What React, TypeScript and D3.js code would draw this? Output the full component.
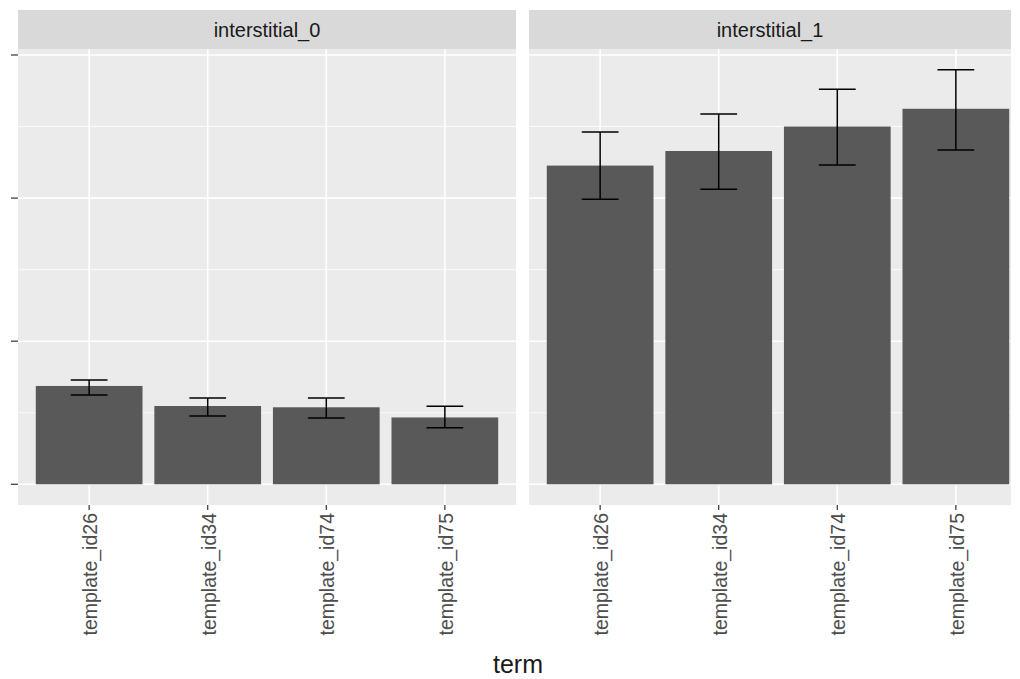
import React from "react";
import * as d3 from "d3";

const facets = ["interstitial_0", "interstitial_1"];
const terms = ["template_id26", "template_id34", "template_id74", "template_id75"];
const means0 = [0.687, 0.547, 0.538, 0.467];
const lower0 = [0.624, 0.477, 0.463, 0.395];
const upper0 = [0.729, 0.603, 0.603, 0.545];
const means1 = [2.227, 2.329, 2.5, 2.624];
const lower1 = [1.991, 2.061, 2.231, 2.336];
const upper1 = [2.462, 2.588, 2.76, 2.897];
const yTicks = [0, 1, 2, 3];

const W = 1020;
const H = 679;
const panelTop = 49;
const panelBottom = 505;
const stripTop = 10;
const panelX = [18, 529];
const panelW = 498;
const panelVisibleW = [498, 482];

const allUpper = upper0.concat(upper1);
const yMax = d3.max(allUpper) as number;
const pad = yMax * 0.05;
const y = d3.scaleLinear().domain([-pad, yMax + pad]).range([panelBottom, panelTop]);

const x = d3.scalePoint<string>().domain(terms).range([0, panelW]).padding(0.6);
const unit = x.step();

const font = "'Liberation Sans', Arial, sans-serif";

function Panel(props: { idx: number }) {
  const { idx } = props;
  const left = panelX[idx];
  const vw = panelVisibleW[idx];
  const means = idx === 0 ? means0 : means1;
  const lower = idx === 0 ? lower0 : lower1;
  const upper = idx === 0 ? upper0 : upper1;
  const minor = d3.range(yTicks.length - 1).map((i) => (yTicks[i] + yTicks[i + 1]) / 2);
  return (
    <g transform={`translate(${left},0)`}>
      <rect x={0} y={stripTop} width={vw} height={panelTop - stripTop} fill="#D9D9D9" />
      <text x={vw / 2} y={(stripTop + panelTop) / 2 + 7} textAnchor="middle" fontSize={20} fill="#1A1A1A" fontFamily={font}>
        {facets[idx]}
      </text>
      <rect x={0} y={panelTop} width={vw} height={panelBottom - panelTop} fill="#EBEBEB" />
      {minor.map((v) => (
        <line key={"mn" + v} x1={0} x2={vw} y1={y(v)} y2={y(v)} stroke="#fff" strokeWidth={0.8} />
      ))}
      {yTicks.map((v) => (
        <line key={"mj" + v} x1={0} x2={vw} y1={y(v)} y2={y(v)} stroke="#fff" strokeWidth={1.6} />
      ))}
      {terms.map((t) => (
        <line key={"gx" + t} x1={x(t)} x2={x(t)} y1={panelTop} y2={panelBottom} stroke="#fff" strokeWidth={1.6} />
      ))}
      {terms.map((t, i) => (
        <rect key={"b" + t} x={(x(t) as number) - unit * 0.45} width={unit * 0.9} y={y(means[i])} height={y(0) - y(means[i])} fill="#595959" />
      ))}
      {terms.map((t, i) => {
        const cx = x(t) as number;
        const hw = unit * 0.155;
        return (
          <g key={"e" + t} stroke="#000" strokeWidth={1.5}>
            <line x1={cx} x2={cx} y1={y(upper[i])} y2={y(lower[i])} />
            <line x1={cx - hw} x2={cx + hw} y1={y(upper[i])} y2={y(upper[i])} />
            <line x1={cx - hw} x2={cx + hw} y1={y(lower[i])} y2={y(lower[i])} />
          </g>
        );
      })}
      {terms.map((t) => (
        <g key={"xt" + t}>
          <line x1={x(t)} x2={x(t)} y1={panelBottom} y2={panelBottom + 5} stroke="#333" strokeWidth={1.2} />
          <text
            transform={`translate(${(x(t) as number) + 8},${panelBottom + 8}) rotate(-90)`}
            textAnchor="end"
            fontSize={19.5}
            fill="#4D4D4D"
            fontFamily={font}
          >
            {t}
          </text>
        </g>
      ))}
    </g>
  );
}

export default function App() {
  return (
    <svg width={W} height={H} style={{ position: "absolute", left: 0, top: 0, background: "#fff" }}>
      <rect width={W} height={H} fill="#fff" />
      {yTicks.map((v) => (
        <line key={"yt" + v} x1={11} x2={18} y1={y(v)} y2={y(v)} stroke="#333" strokeWidth={1.2} />
      ))}
      <Panel idx={0} />
      <Panel idx={1} />
      <text x={518} y={673} textAnchor="middle" fontSize={25} fill="#1A1A1A" fontFamily={font}>
        term
      </text>
    </svg>
  );
}
